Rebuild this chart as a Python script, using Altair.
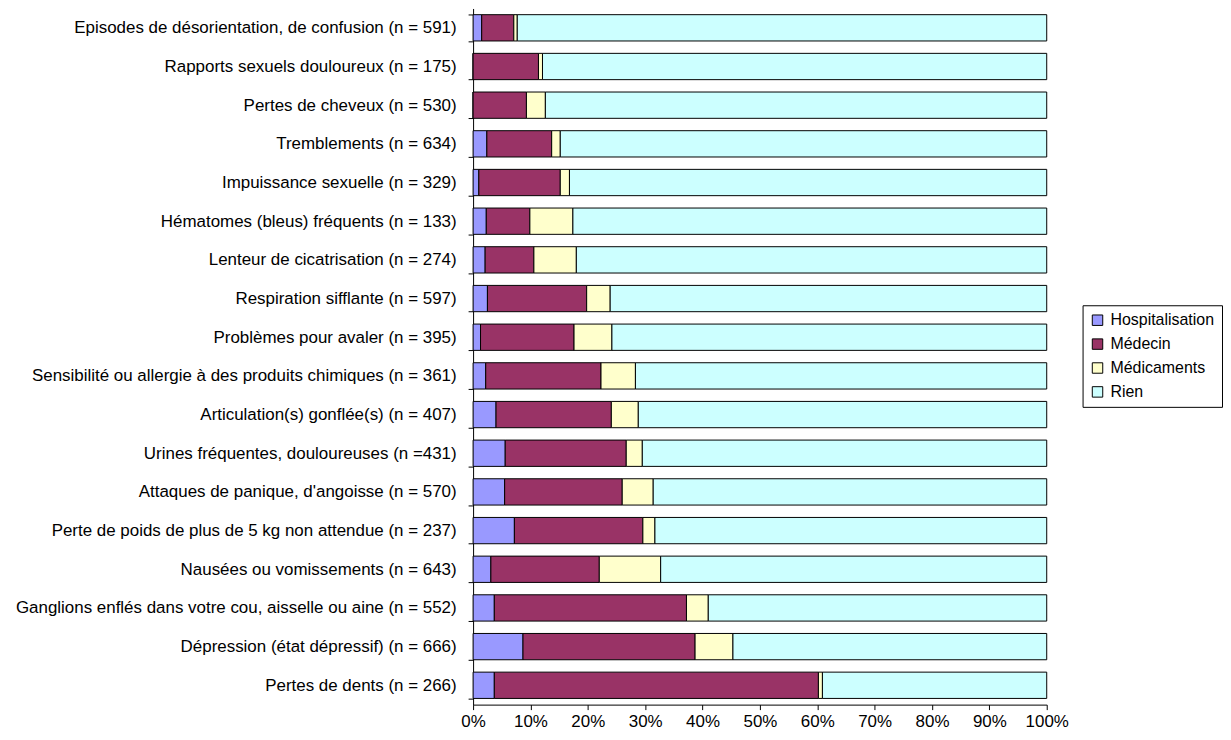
import altair as alt
import pandas as pd

categories = [
    "Episodes de désorientation, de confusion (n = 591)",
    "Rapports sexuels douloureux (n = 175)",
    "Pertes de cheveux (n = 530)",
    "Tremblements (n = 634)",
    "Impuissance sexuelle (n = 329)",
    "Hématomes (bleus) fréquents (n = 133)",
    "Lenteur de cicatrisation (n = 274)",
    "Respiration sifflante (n = 597)",
    "Problèmes pour avaler (n = 395)",
    "Sensibilité ou allergie à des produits chimiques (n = 361)",
    "Articulation(s) gonflée(s) (n = 407)",
    "Urines fréquentes, douloureuses (n =431)",
    "Attaques de panique, d'angoisse (n = 570)",
    "Perte de poids de plus de 5 kg non attendue (n = 237)",
    "Nausées ou vomissements (n = 643)",
    "Ganglions enflés dans votre cou, aisselle ou aine (n = 552)",
    "Dépression (état dépressif) (n = 666)",
    "Pertes de dents (n = 266)",
]

series = ["Hospitalisation", "Médecin", "Médicaments", "Rien"]
colors = ["#9999FF", "#993366", "#FFFFCC", "#CCFFFF"]

hospitalisation = [1.5, 0.0, 0.0, 2.4, 1.0, 2.3, 2.1, 2.5, 1.3, 2.2, 4.0, 5.6, 5.5, 7.2, 3.1, 3.7, 8.7, 3.7]
medecin =         [5.6, 11.4, 9.3, 11.3, 14.2, 7.6, 8.5, 17.3, 16.3, 20.1, 20.1, 21.1, 20.5, 22.4, 18.9, 33.5, 30.0, 56.5]
medicaments =     [0.6, 0.7, 3.3, 1.5, 1.6, 7.5, 7.4, 4.1, 6.6, 6.0, 4.7, 2.8, 5.4, 2.1, 10.7, 3.8, 6.6, 0.7]
rien =            [92.3, 87.9, 87.4, 84.8, 83.2, 82.6, 82.0, 76.1, 75.8, 71.7, 71.2, 70.5, 68.6, 68.3, 67.3, 59.0, 54.7, 39.1]

rows = []
for i, c in enumerate(categories):
    for j, (s, vals) in enumerate(zip(series, [hospitalisation, medecin, medicaments, rien])):
        rows.append({"cat": c, "serie": s, "val": vals[i], "ord": j})
df = pd.DataFrame(rows)

FONT = "Arial, Liberation Sans, sans-serif"

chart = alt.Chart(df).mark_bar(stroke="black", strokeWidth=1).encode(
    y=alt.Y("cat:N", sort=categories, title=None,
            scale=alt.Scale(paddingInner=0.32, paddingOuter=0.16),
            axis=alt.Axis(tickBand="extent", labelFontSize=17, labelFont=FONT,
                          labelColor="black", labelPadding=12, tickSize=5,
                          tickColor="black", domainColor="black", labelLimit=0,
                          minExtent=467, maxExtent=467)),
    x=alt.X("val:Q", stack="normalize", title=None,
            scale=alt.Scale(domain=[0, 1], nice=False),
            axis=alt.Axis(format=".0%", values=[i / 10 for i in range(11)],
                          grid=False, labelFontSize=17, labelFont=FONT,
                          labelColor="black", tickSize=5, tickColor="black",
                          domainColor="black", labelPadding=4, labelFlush=False,
                          labelOverlap=False)),
    color=alt.Color("serie:N", title=None,
                    scale=alt.Scale(domain=series, range=colors),
                    legend=alt.Legend(orient="none", legendX=612, legendY=298,
                                      symbolType="square", symbolSize=110,
                                      symbolStrokeColor="black", symbolStrokeWidth=1,
                                      labelFontSize=16, labelFont=FONT, labelColor="black",
                                      rowPadding=8, labelOffset=5,
                                      strokeColor="black", padding=7,
                                      fillColor="white")),
    order=alt.Order("ord:Q"),
).properties(
    width=576, height=699,
    padding={"left": 0, "top": -10, "right": 0, "bottom": 0},
).configure_view(stroke=None)

chart.save("out.html", embed_options={"renderer": "svg", "actions": False})
